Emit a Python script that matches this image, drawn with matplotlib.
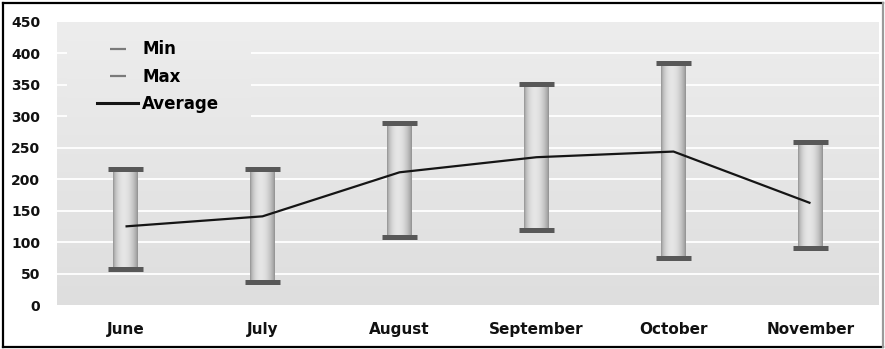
import numpy as np
import matplotlib
matplotlib.use("Agg")
import matplotlib.pyplot as plt
from matplotlib.lines import Line2D
from matplotlib.patches import Rectangle
from matplotlib.colors import LinearSegmentedColormap

months = ["June", "July", "August", "September", "October", "November"]
min_vals = [57, 37, 108, 119, 75, 90]
max_vals = [216, 217, 290, 351, 384, 259]
avg_vals = [125, 141, 211, 235, 244, 162]
y_ticks = [0, 50, 100, 150, 200, 250, 300, 350, 400, 450]

plt.rcParams["font.family"] = ["DejaVu Sans"]
plt.rcParams["font.weight"] = "bold"

fig = plt.figure(figsize=(8.85, 3.49), dpi=100)
ax = fig.add_axes([0.0644, 0.126, 0.9288, 0.811])

x = np.arange(len(months))
ax.set_xlim(-0.5, len(months) - 0.5)
ax.set_ylim(0, 450)

# vertical gradient background of the plot area
bg_cmap = LinearSegmentedColormap.from_list("bg", ["#dedede", "#ededed"])
grad = np.linspace(0, 1, 256).reshape(-1, 1)
ax.imshow(grad, cmap=bg_cmap, extent=[0, 1, 0, 1], transform=ax.transAxes,
          origin="lower", aspect="auto", zorder=0)

# white horizontal gridlines
for v in y_ticks[1:-1]:
    ax.axhline(v, color="white", lw=1.3, zorder=1)

# background patch behind the legend hides the gridlines there
cover = ax.imshow(grad, cmap=bg_cmap, extent=[0, 1, 0, 1], transform=ax.transAxes,
                  origin="lower", aspect="auto", zorder=1.5)
clip = Rectangle((0.012, 0.64), 0.223, 0.33, transform=ax.transAxes)
cover.set_clip_path(clip)

# cylinder-shaded bars from min to max
t = np.linspace(0, 1, 64)
shade = 0.56 + 0.34 * np.clip(np.sin(np.pi * t ** 0.85), 0, 1) ** 0.7
bar_img = np.tile(shade, (2, 1))
bar_w = 0.18
cap_w = 0.26
for xi, lo, hi in zip(x, min_vals, max_vals):
    ax.imshow(bar_img, cmap="gray", vmin=0, vmax=1,
              extent=[xi - bar_w / 2, xi + bar_w / 2, lo, hi],
              aspect="auto", zorder=2, interpolation="bilinear")

# caps at min and max
ax.hlines(min_vals, x - cap_w / 2, x + cap_w / 2, color="#585858", lw=3.6, zorder=3)
ax.hlines(max_vals, x - cap_w / 2, x + cap_w / 2, color="#585858", lw=3.6, zorder=3)

# average line
ax.plot(x, avg_vals, color="#151515", lw=1.6, zorder=4, solid_capstyle="butt")

ax.set_xlim(-0.5, len(months) - 0.5)
ax.set_ylim(0, 450)
ax.set_xticks(x)
ax.set_xticklabels(months, fontsize=11, fontweight="bold", color="#111111")
ax.set_yticks(y_ticks)
ax.set_yticklabels([str(v) for v in y_ticks], fontsize=10, fontweight="bold", color="#111111")
ax.tick_params(axis="x", length=0, pad=12)
ax.tick_params(axis="y", length=0, pad=12)
for s in ax.spines.values():
    s.set_visible(False)

handles = [
    Line2D([], [], color="#7a7a7a", marker="_", markersize=11, mew=1.6, linestyle="none"),
    Line2D([], [], color="#7a7a7a", marker="_", markersize=11, mew=1.6, linestyle="none"),
    Line2D([], [], color="#151515", lw=2.2),
]
leg = ax.legend(handles, ["Min", "Max", "Average"], loc="upper left",
                bbox_to_anchor=(0.049, 0.935), borderaxespad=0, borderpad=0,
                frameon=False, prop={"size": 12, "weight": "bold"},
                handlelength=2.45, handletextpad=0.25, labelspacing=0.55)
leg.set_zorder(5)

# outer frame of the figure
fig.add_artist(Line2D([0.003, 0.003], [0.005, 0.99], transform=fig.transFigure, color="black", lw=1.6))
fig.add_artist(Line2D([0.003, 0.998], [0.99, 0.99], transform=fig.transFigure, color="black", lw=1.6))
fig.add_artist(Line2D([0.003, 0.998], [0.005, 0.005], transform=fig.transFigure, color="black", lw=1.6))
fig.add_artist(Line2D([0.998, 0.998], [0.005, 0.99], transform=fig.transFigure, color="#9a9a9a", lw=1.6))

fig.savefig("out.png", dpi=100)
